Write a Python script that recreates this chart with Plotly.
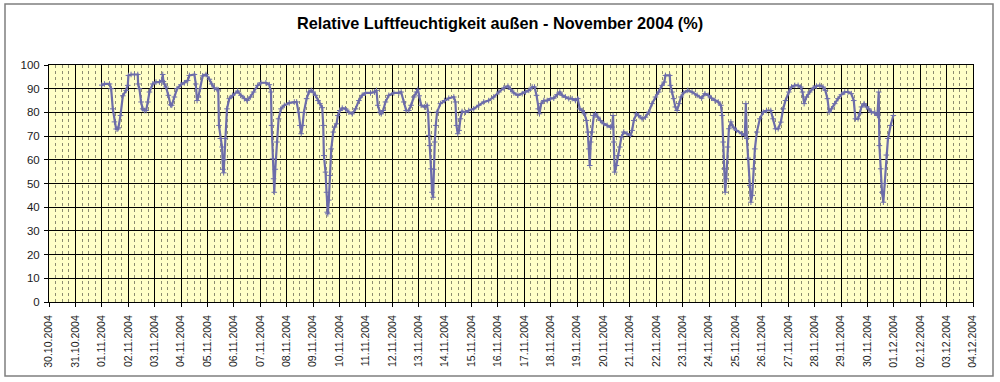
import pandas as pd
import plotly.graph_objects as go

# Stunden seit 01.11.2004 00:00 und relative Luftfeuchtigkeit (%)
hours_w1 = [0, 2.4, 7.0, 8.5, 10.0, 11.5, 13.0, 14.5, 15.1, 17.0, 19.1, 22.1, 23.6, 24.2, 26.6, 29.7, 32.7, 33.0, 34.2, 35.7,
            37.2, 38.7, 40.3, 41.8, 43.3, 46.3, 49.3, 52.4, 54.8, 55.4, 56.0, 56.9, 58.4, 60.5, 62.4, 63.6, 66.0, 68.4, 72.0, 75.1,
            78.1, 79.6, 84.2, 85.4, 86.6, 87.8, 89.6, 91.7, 94.7, 97.8, 99.9, 102.3, 104.7, 105.9, 106.5, 107.8, 109.3, 110.2, 110.8, 111.4,
            112.3, 113.8, 115.9, 118.9, 123.5, 126.5, 129.6, 132.0, 135.0, 138.0, 141.7, 144.7, 149.2, 152.3, 153.8, 154.4, 155.3, 156.2, 156.8, 157.7,
            159.2, 160.7, 162.9, 165.9, 170.4, 175.0]
rh_w1 = [91.5, 92, 92, 90, 81.5, 76, 73, 73, 73.5, 78.7, 87, 89.3, 91.4, 95.6, 96, 96, 96, 92, 90, 84.4,
         81.5, 80.8, 80.8, 84.4, 88.6, 92, 92.8, 92.8, 93.5, 96, 93, 92, 90.7, 87.2, 83.2, 83, 86.5, 90, 91.7, 92.5,
         93.5, 95.6, 96, 92, 85, 86.5, 90, 95.4, 96, 94, 92, 90.3, 89.7, 89.5, 74.5, 69, 65.4, 56, 54.5, 60,
         69, 81.5, 85.8, 87.2, 89, 87.2, 85.8, 85, 86.5, 88.6, 91.4, 92.5, 92.5, 91.7, 88.6, 74.5, 60.4, 52, 46.3, 56,
         67.5, 77.3, 81.5, 83, 84, 84.4]

hours_w2 = [177.1, 178.9, 180.1, 181.3, 182.5, 183.7, 186.2, 188.3, 190.4, 192.2, 194.3, 196.5, 198.3, 200.4, 201.3, 201.9, 203.4, 204.3, 204.9, 205.5,
            206.4, 207.4, 208.6, 210.4, 211.6, 213.4, 214.6, 216.4, 218.6, 221.6, 224.6, 227.6, 230.7, 233.7, 236.7, 239.7, 244.3, 247.9, 249.7, 250.9,
            252.8, 254.0, 255.8, 257.9, 260.9, 265.5, 270.0, 272.1, 274.5, 276.7, 279.1, 281.2, 283.6, 286.1, 287.3, 288.5, 290.3, 293.3, 295.7, 296.6,
            297.2, 298.1, 299.3, 300.2, 301.2, 301.8, 302.7, 303.6, 304.8, 307.8, 311.5, 315.4, 320.0, 321.5, 322.4, 323.6, 324.8, 326.0, 327.5, 330.6,
            333.6, 338.1, 342.7, 347.2, 351.7, 356.3]
rh_w2 = [84.4, 80, 74.5, 71, 74.5, 80, 85.8, 88.6, 89.3, 88.6, 87.2, 85, 83.7, 82, 74.5, 61.8, 54.8, 46.3, 37.9, 37.2,
         43, 53.4, 64.6, 71.7, 73.8, 75.2, 78.7, 80.8, 81.8, 81.5, 80.1, 79.4, 81.5, 85, 87.2, 88.2, 88.2, 88.6, 89.3, 83,
         80.1, 79.4, 80.8, 84.4, 87.2, 88.2, 88.2, 88.6, 84.4, 80.8, 80.8, 83, 86.5, 88.6, 89.7, 87, 83, 82.3, 83, 80.1,
         70.3, 66, 56.2, 46.3, 44.2, 56, 67.5, 74.5, 80.1, 83.7, 85, 86, 86.5, 84.4, 74.5, 71, 72.4, 77.3, 80.4, 80.1,
         80.8, 81.5, 83, 84.4, 85, 86.5]

hours_w3 = [361.0, 365.5, 369.2, 371.6, 374.6, 378.3, 382.2, 385.2, 388.2, 391.3, 393.4, 395.2, 396.7, 397.9, 399.4, 401.9, 404.9, 407.9, 410.9, 413.9,
            416.4, 418.5, 421.5, 424.5, 427.6, 430.6, 432.7, 434.5, 436.7, 438.8, 440.6, 441.8, 442.7, 443.6, 444.5, 445.7, 447.3, 448.8, 450.9, 453.3,
            456.4, 459.4, 462.4, 463.9, 464.8, 465.4, 466.3, 467.8, 469.4, 470.9, 472.4, 474.5, 477.5, 480.6, 482.1, 483.6, 486.0, 488.1, 491.2, 494.2,
            497.2, 500.2, 503.3, 506.3, 509.3, 511.4, 512.4, 516.3, 516.9, 518.4, 519.9, 521.4, 523.0, 524.8, 526.6, 529.0, 532.7, 536.6, 541.2]
rh_w3 = [88.6, 90.3, 91.1, 89.7, 88.2, 87.2, 87.9, 88.6, 89.3, 90.7, 90.7, 87.2, 81.5, 79.4, 83.7, 85, 85, 85.8, 86, 87.5,
         88.6, 87.2, 86.5, 85.8, 85.8, 85, 85.8, 81.5, 80.8, 79.4, 76.6, 71.7, 64.6, 57.6, 67.5, 71.7, 78.7, 79.4, 78, 76.6,
         75.2, 74.5, 73.8, 73.8, 78.7, 67.5, 54.8, 57.6, 61.8, 65.4, 69.6, 71.7, 71, 70.3, 72.4, 76.6, 79.4, 78.7, 77.3, 78,
         80.1, 83.7, 86.5, 88.6, 91.4, 92.8, 95.6, 95.6, 91.4, 88.6, 85.8, 82.3, 80.8, 83.7, 86.5, 88.3, 89.3, 88.6, 87.2]

hours_w4 = [545.3, 548.3, 551.3, 554.3, 557.4, 560.4, 562.8, 564.0, 564.9, 565.8, 566.7, 567.7, 568.9, 570.1, 571.9, 574.0, 577.0, 581.6, 584.6, 585.5,
            586.4, 587.6, 589.1, 590.1, 591.3, 592.5, 593.7, 595.5, 598.2, 601.3, 604.3, 608.2, 610.3, 612.5, 614.9, 617.3, 619.4, 621.5, 624.6, 627.0,
            630.0, 633.0, 635.5, 637.0, 638.5, 640.6, 643.6, 646.7, 649.7, 652.7, 655.7, 657.8, 659.7, 661.2, 663.3, 666.3, 669.3, 672.4, 675.4, 678.4,
            681.4, 683.6, 685.1, 687.5, 689.0, 690.6, 693.0, 695.1, 697.2, 699.6, 702.7, 705.1, 706.3, 706.9, 708.1, 709.3, 710.5, 711.7, 713.2, 714.7,
            717.1, 719.6]
rh_w4 = [86, 87.9, 87.2, 86, 85, 84.4, 83, 78.7, 67.5, 56.2, 46.3, 52, 65.4, 73.1, 76, 73.8, 72.4, 71, 70.3, 83.7,
         69, 60.7, 49.2, 42.1, 45, 56.2, 64.6, 71.7, 77.3, 80.1, 80.8, 80.8, 77.3, 73.1, 73.1, 75.9, 81.5, 85, 88.6, 90.7,
         91.4, 91.4, 90.7, 88.6, 83.7, 86.5, 88.6, 90.3, 91.1, 91.4, 90.7, 89.3, 85.8, 80.1, 81.5, 83.7, 85.8, 87.5, 88.6, 88.6,
         87.9, 85, 77.3, 77.3, 79.4, 82.3, 83.7, 82.3, 81.5, 80.1, 79.9, 78.7, 88.6, 66, 56.2, 46.3, 42.1, 50, 62, 69,
         74.5, 78.7]

start = pd.Timestamp("2004-11-01 00:00")
axis_start = "2004-10-30"
axis_end = "2004-12-04"
title_text = "Relative Luftfeuchtigkeit außen - November 2004 (%)"

hours = hours_w1 + hours_w2 + hours_w3 + hours_w4
rh = rh_w1 + rh_w2 + rh_w3 + rh_w4
times = [start + pd.Timedelta(hours=h) for h in hours]

FONT = "Liberation Sans, Arial, sans-serif"
W, H = 1000, 382
L, R, T, B = 49, 27, 65, 80
pw, ph = W - L - R, H - T - B

fig = go.Figure()
fig.add_trace(go.Scatter(
    x=times, y=rh, mode="lines+markers",
    line=dict(color="#6D6DAA", width=2.2),
    marker=dict(symbol="cross-thin", size=4, line=dict(color="#6D6DAA", width=1)),
    showlegend=False,
))

fig.update_layout(
    width=W, height=H,
    margin=dict(l=L, r=R, t=T, b=B),
    paper_bgcolor="white",
    plot_bgcolor="#FFFFC8",
    font=dict(family=FONT, color="#000000"),
    title=dict(text="<b>" + title_text + "</b>", x=0.5, xref="container", xanchor="center",
               y=1 - 23 / H, yref="container", yanchor="middle",
               font=dict(family=FONT, size=16.3, color="#000000")),
)

fig.update_xaxes(
    type="date", range=[axis_start, axis_end],
    tick0=axis_start, dtick=86400000, tickformat="%d.%m.%Y", tickangle=-90,
    tickfont=dict(family=FONT, size=10.5, color="#1A1A1A"),
    ticks="outside", ticklen=4, tickcolor="#000000", ticklabelstandoff=4,
    showgrid=True, gridcolor="#000000", gridwidth=1,
    showline=True, linecolor="#000000", linewidth=1, mirror=True,
    minor=dict(dtick=6 * 3600000, showgrid=True, gridcolor="#8C8C70", griddash="dot", gridwidth=1, ticks=""),
    zeroline=False, fixedrange=True,
)
fig.update_yaxes(
    range=[0, 100], dtick=10, tick0=0,
    tickfont=dict(family=FONT, size=11.5, color="#1A1A1A"),
    ticks="outside", ticklen=4, tickcolor="#000000", ticklabelstandoff=2,
    showgrid=True, gridcolor="#000000", gridwidth=1,
    showline=True, linecolor="#000000", linewidth=1, mirror=True,
    zeroline=False, fixedrange=True,
)

# outer chart border
x0 = (5 - L) / pw
x1 = (993 - L) / pw
y0 = (H - B - 376) / ph
y1 = (H - B - 4) / ph
fig.add_shape(type="rect", xref="paper", yref="paper", x0=x0, x1=x1, y0=y0, y1=y1,
              line=dict(color="#7F7F7F", width=1.5), layer="below")

fig.write_html(
    "out.html",
    config={"displayModeBar": False},
    post_script="document.documentElement.style.margin='0';document.body.style.margin='0';"
                "document.documentElement.style.overflow='hidden';document.body.style.overflow='hidden';",
)
